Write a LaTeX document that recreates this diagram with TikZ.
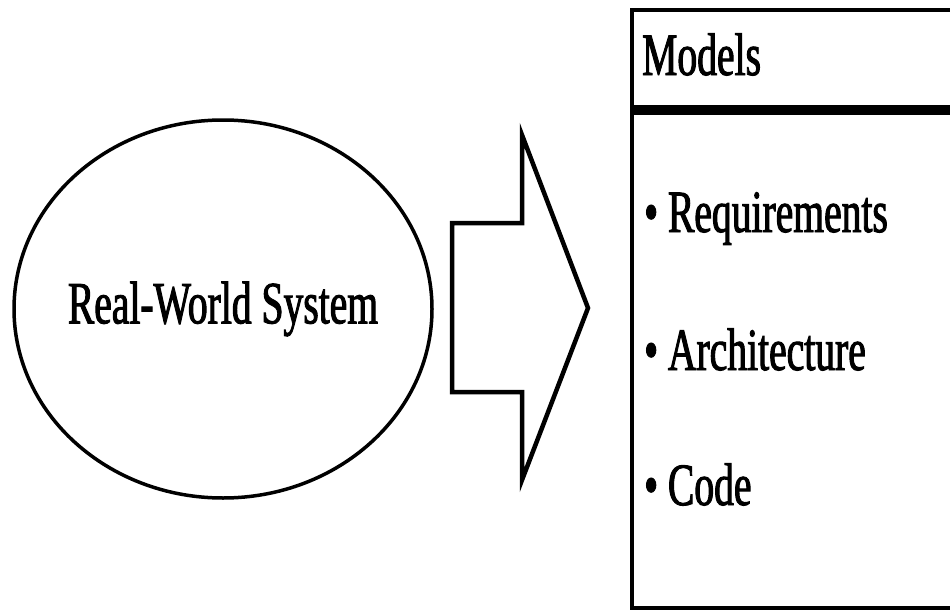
\documentclass[tikz,border=0pt]{standalone}
\usepackage{fontspec}
\setmainfont{Liberation Serif}[FakeStretch=0.66,FakeBold=1.6]
\usetikzlibrary{shapes.geometric,positioning}

\tikzset{
  every node/.style={font=\fontsize{60}{64}\selectfont},
  system/.style={ellipse, draw, line width=3.5pt, minimum width=418pt, minimum height=378pt, inner xsep=-12pt},
  entry/.style={anchor=base west, inner sep=0pt},
}

\begin{document}
\begin{tikzpicture}[x=1pt,y=-1pt]
	\useasboundingbox (0,0) rectangle (950,610);
	
	% Define system
	\node[system] (sys) at (223,309) {Real-World System};
	
	% Draw arrow
	\draw[line width=4.5pt, line join=miter] (452,223) -- (522,223) -- (522,135) -- (588,308)
		-- (522,480) -- (522,392) -- (452,392) -- cycle;
	
	% Draw models box
	\draw[line width=3.5pt] (632,10) rectangle (965,608);
	\draw[line width=10pt] (632,110) -- (965,110);
	
	% Define entries
	\node[entry] (models) at (642,75) {Models};
	\node[entry] (req) at (644,232) {\textbullet\ Requirements};
	\node[entry] (arch) at (644,370) {\textbullet\ Architecture};
	\node[entry] (code) at (644,505) {\textbullet\ Code};
\end{tikzpicture}
\end{document}
